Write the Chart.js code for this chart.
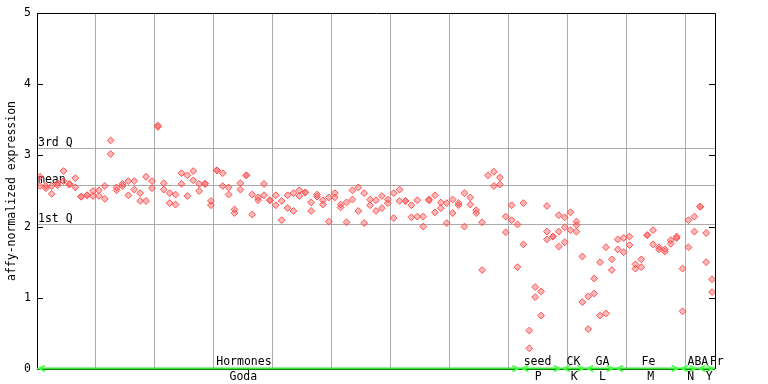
<!DOCTYPE html>
<html><head><meta charset="utf-8">
<style>html,body{margin:0;padding:0;background:#fff;}#wrap{width:768px;height:384px;}</style>
<script src="https://cdn.jsdelivr.net/npm/chart.js@4/dist/chart.umd.min.js"></script>
</head><body><div id="wrap"><canvas id="c" width="768" height="384"></canvas></div>
<script>
// replicate values per sample position (index = position on x axis)
const rep1 = [2.70,2.57,2.57,2.61,2.78,2.60,2.68,2.42,2.44,2.50,2.51,2.57,3.21,2.55,2.60,2.64,2.64,2.47,2.70,2.64,
  3.42,2.61,2.47,2.45,2.75,2.72,2.78,2.60,2.60,2.36,2.79,2.75,2.55,2.24,2.61,2.72,2.45,2.41,2.60,2.37,
  2.44,2.36,2.44,2.47,2.51,2.48,2.34,2.45,2.37,2.41,2.47,2.31,2.34,2.51,2.55,2.47,2.38,2.37,2.43,2.38,
  2.47,2.52,2.36,2.30,2.37,2.14,2.38,2.44,2.34,2.33,2.38,2.33,2.47,2.41,2.23,2.06,2.72,2.77,2.69,2.14,
  2.30,2.03,2.33,0.54,1.15,1.09,2.29,1.86,2.16,2.13,2.20,2.07,1.58,1.02,1.27,1.50,1.71,1.54,1.82,1.84,
  1.86,1.47,1.54,1.88,1.95,1.71,1.68,1.81,1.86,1.41,2.09,2.14,2.28,1.91,1.26];
const rep2 = [2.57,2.54,2.46,2.58,2.64,2.59,2.55,2.42,2.44,2.43,2.43,2.39,3.02,2.51,2.57,2.44,2.52,2.36,2.36,2.54,
  3.40,2.52,2.33,2.31,2.60,2.43,2.65,2.50,2.60,2.30,2.79,2.57,2.45,2.19,2.52,2.72,2.17,2.37,2.44,2.37,
  2.30,2.09,2.26,2.22,2.43,2.48,2.22,2.42,2.31,2.07,2.41,2.27,2.06,2.38,2.22,2.05,2.30,2.22,2.26,2.33,
  2.12,2.36,2.36,2.13,2.14,2.00,2.37,2.20,2.26,2.05,2.19,2.30,2.00,2.31,2.19,1.39,null,2.57,2.59,1.92,
  2.09,1.43,1.75,0.29,1.01,0.75,1.93,1.86,1.93,1.99,1.95,2.02,0.94,0.56,1.06,0.75,0.78,1.39,1.68,1.64,
  1.74,1.41,1.43,1.88,1.75,1.68,1.65,1.76,1.84,0.81,1.71,1.93,2.28,1.50,1.08];
const rep3 = {86:1.82, 88:1.72, 89:1.78, 91:1.93};
const yTicks = [0,1,2,3,4,5];
const quantileValues = [3.10, 2.58, 2.04];
const quantileLabels = ['3rd Q','mean','1st Q'];
const groupTop = ['Hormones','seed','CK','GA','Fe','ABA','Fr'];
const groupBottom = ['Goda','P','K','L','M','N','Y'];
const groupStart = [0,82,89,93,98,109,112];
const groupEnd = [81,88,92,97,108,111,114];
const topLabelAt = [34.6,84.4,90.5,95.4,103.2,111.6,114.8];
const bottomLabelAt = [34.5,84.5,90.6,95.4,103.6,110.4,113.5];
const gridAt = [9.5,19.5,29.5,39.5,49.5,59.5,69.5,79.5,89.5,99.5,109.5];

const FONT = 'DejaVu Sans Mono';
const FS = 11.5;
Chart.defaults.font.family = FONT;

function toPts(arr){ const o=[]; arr.forEach((v,i)=>{ if(v!==null && v!==undefined) o.push({x:i,y:v}); }); return o; }
const pts3 = Object.keys(rep3).map(k=>({x:+k,y:rep3[k]}));
const ptStyle = {pointStyle:'rectRot', pointRadius:3.4, borderWidth:1, borderColor:'#ff5050', backgroundColor:'rgba(255,80,80,0.4)', showLine:false};

const decor = {
  id:'decor',
  beforeDatasetsDraw(chart){
    const {ctx, chartArea:a, scales:{x,y}} = chart;
    ctx.save();
    ctx.strokeStyle='#aaaaaa'; ctx.lineWidth=1;
    ctx.font=FS+'px '+FONT; ctx.fillStyle='#000'; ctx.textAlign='left'; ctx.textBaseline='alphabetic';
    quantileValues.forEach((q,i)=>{
      const py=Math.round(y.getPixelForValue(q))+0.5;
      ctx.beginPath(); ctx.moveTo(a.left,py); ctx.lineTo(a.right,py); ctx.stroke();
      ctx.fillText(quantileLabels[i], a.left+1, py-2.5);
    });
    ctx.strokeStyle='#000';
    yTicks.forEach(t=>{
      const py=Math.round(y.getPixelForValue(t))+0.5;
      ctx.beginPath(); ctx.moveTo(a.left,py); ctx.lineTo(a.left+6,py);
      ctx.moveTo(a.right,py); ctx.lineTo(a.right-6,py); ctx.stroke();
    });
    ctx.restore();
  },
  afterDraw(chart){
    const {ctx, chartArea:a, scales:{x,y}} = chart;
    ctx.save();
    ctx.strokeStyle='#000'; ctx.lineWidth=1;
    ctx.beginPath();
    ctx.moveTo(a.left+0.5,a.bottom); ctx.lineTo(a.left+0.5,a.top+0.5); ctx.lineTo(a.right+0.5,a.top+0.5); ctx.lineTo(a.right+0.5,a.bottom);
    ctx.stroke();
    const by=a.bottom;
    ctx.strokeStyle='#000'; ctx.beginPath(); ctx.moveTo(a.left,by+0.5); ctx.lineTo(a.right,by+0.5); ctx.stroke();
    ctx.strokeStyle='#33ee33'; ctx.lineWidth=2;
    ctx.beginPath(); ctx.moveTo(a.left,by-0.5); ctx.lineTo(a.right,by-0.5); ctx.stroke();
    ctx.strokeStyle='#44ff44'; ctx.lineWidth=1.5;
    groupStart.forEach((s,i)=>{
      const x0=x.getPixelForValue(s-0.5)+2, x1=x.getPixelForValue(groupEnd[i]+0.5)-2;
      ctx.beginPath();
      ctx.moveTo(x0+6,by-3.5); ctx.lineTo(x0,by-0.5); ctx.lineTo(x0+6,by+2.5);
      ctx.moveTo(x1-6,by-3.5); ctx.lineTo(x1,by-0.5); ctx.lineTo(x1-6,by+2.5);
      ctx.stroke();
    });
    ctx.fillStyle='#000'; ctx.font=FS+'px '+FONT; ctx.textAlign='center'; ctx.textBaseline='middle';
    groupTop.forEach((t,i)=>{ ctx.fillText(t, x.getPixelForValue(topLabelAt[i]), by-6.5); });
    groupBottom.forEach((t,i)=>{ ctx.fillText(t, x.getPixelForValue(bottomLabelAt[i]), by+8); });
    ctx.restore();
  }
};

new Chart(document.getElementById('c'), {
  type:'scatter',
  data:{datasets:[
    Object.assign({label:'rep1', data:toPts(rep1)}, ptStyle),
    Object.assign({label:'rep2', data:toPts(rep2)}, ptStyle),
    Object.assign({label:'rep3', data:pts3}, ptStyle)
  ]},
  options:{
    responsive:false, animation:false, devicePixelRatio:1,
    layout:{padding:{left:0, top:13, right:53, bottom:0}},
    plugins:{legend:{display:false}, tooltip:{enabled:false}},
    scales:{
      x:{type:'linear', min:-0.5, max:114.5, position:'bottom',
        afterBuildTicks:s=>{ s.ticks = gridAt.map(v=>({value:v})); },
        ticks:{display:false},
        grid:{color:'#aaaaaa', lineWidth:1, drawTicks:false},
        border:{display:false},
        afterFit:s=>{ s.height=15; }
      },
      y:{type:'linear', min:0, max:5, position:'left',
        afterBuildTicks:s=>{ s.ticks = yTicks.map(v=>({value:v})); },
        ticks:{color:'#000', font:{size:FS}, padding:6},
        grid:{display:false, drawTicks:false},
        border:{display:false},
        title:{display:true, text:'affy-normalized expression', color:'#000', font:{size:FS}, padding:{top:5,bottom:0}},
        afterFit:s=>{ s.width=37; }
      }
    }
  },
  plugins:[decor]
});
</script></body></html>
